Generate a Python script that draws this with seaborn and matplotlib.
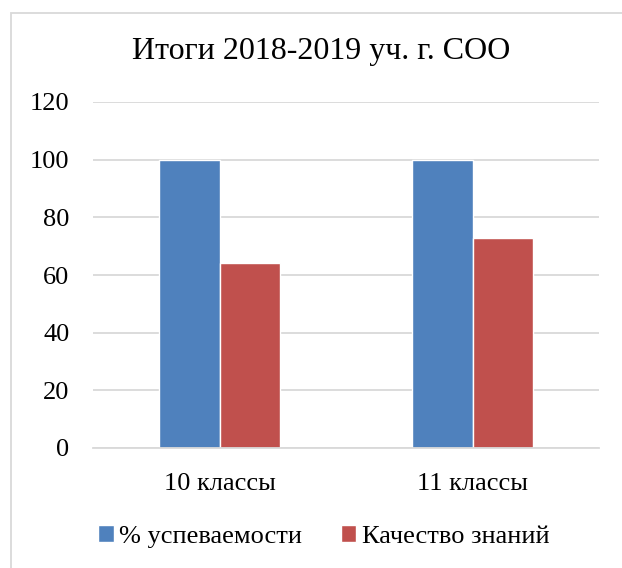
import pandas as pd
import matplotlib.pyplot as plt
import seaborn as sns
from matplotlib.patches import Rectangle

categories = ["10 классы", "11 классы"]
series_names = ["% успеваемости", "Качество знаний"]
uspevaemost = [100, 100]
kachestvo = [64.3, 72.9]
yticks = [0, 20, 40, 60, 80, 100, 120]

df = pd.DataFrame({
    "cls": categories * 2,
    "series": [series_names[0]] * 2 + [series_names[1]] * 2,
    "value": uspevaemost + kachestvo,
})

sns.set_style("white")
plt.rcParams["font.family"] = ["Liberation Serif", "DejaVu Serif"]
plt.rcParams["text.color"] = "black"
plt.rcParams["xtick.color"] = "black"
plt.rcParams["ytick.color"] = "black"

fig = plt.figure(figsize=(6.22, 5.68), dpi=100)
ax = fig.add_axes([93 / 622, 1 - 448 / 568, (599 - 93) / 622, (448 - 102) / 568])

sns.barplot(data=df, x="cls", y="value", hue="series", width=0.48, gap=0,
            palette=["#4f81bd", "#c0504d"], saturation=1, ax=ax, legend=True)

ax.set_ylim(0, 120)
ax.set_xlim(-0.5, 1.5)
ax.set_yticks(yticks)
ax.set_yticklabels([str(t) for t in yticks], fontsize=19)
ax.tick_params(axis="x", labelsize=19, pad=18, length=0, labelcolor="black")
ax.tick_params(axis="y", pad=17, length=0, labelcolor="black")
ax.yaxis.grid(True, color="#d9d9d9", linewidth=1.3)
ax.set_axisbelow(True)
for s in ["top", "right", "left"]:
    ax.spines[s].set_visible(False)
ax.spines["bottom"].set_color("#d9d9d9")
ax.spines["bottom"].set_linewidth(1.3)
ax.set_xlabel("")
ax.set_ylabel("")

handles, labels = ax.get_legend_handles_labels()
ax.legend(handles, labels, loc="center", bbox_to_anchor=(0.456, -0.255), ncol=2,
          frameon=False, fontsize=19, handlelength=0.6, handleheight=0.6,
          handletextpad=0.2, columnspacing=1.45, labelcolor="black")

fig.text(0.517, 1 - 52 / 568, "Итоги 2018-2019 уч. г. СОО", ha="center", va="center",
         fontsize=23, color="black")

fig.patches.append(Rectangle((11 / 622, -0.05), 1.1, 1 - 12.5 / 568 + 0.05,
                             transform=fig.transFigure, fill=False,
                             edgecolor="#d9d9d9", linewidth=1.3))

fig.savefig("out.png", dpi=100)
